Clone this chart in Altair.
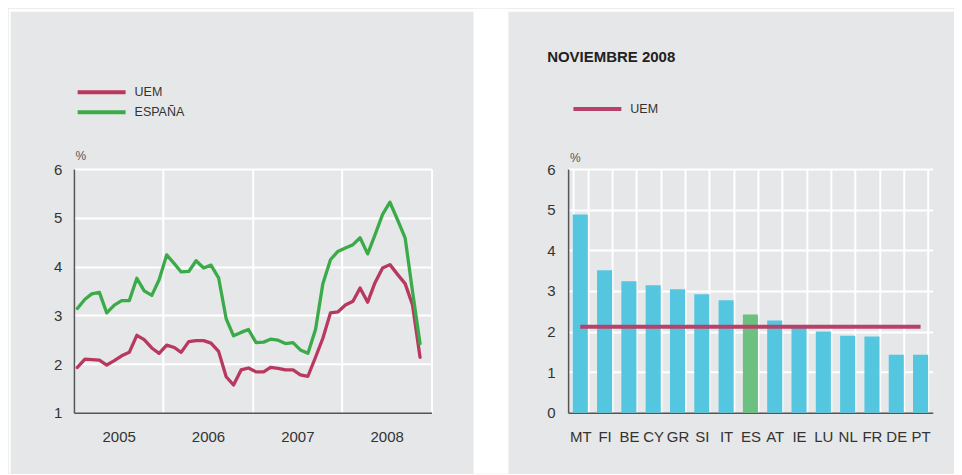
import altair as alt
import pandas as pd

# ---------------- data ----------------
meses = [f"{a}-{m:02d}-15" for a in range(2005, 2009) for m in range(1, 13)][:47]
uem = [1.93, 2.10, 2.09, 2.08, 1.98, 2.07, 2.17, 2.24, 2.59, 2.50, 2.33, 2.22,
       2.39, 2.34, 2.24, 2.46, 2.48, 2.48, 2.43, 2.26, 1.74, 1.57, 1.88, 1.92,
       1.84, 1.84, 1.93, 1.91, 1.88, 1.88, 1.78, 1.75, 2.14, 2.53, 3.05, 3.07,
       3.21, 3.29, 3.56, 3.27, 3.67, 3.97, 4.04, 3.84, 3.65, 3.22, 2.14]
espana = [3.14, 3.33, 3.44, 3.47, 3.05, 3.21, 3.30, 3.30, 3.76, 3.50, 3.41, 3.73,
          4.24, 4.06, 3.89, 3.90, 4.12, 3.97, 4.03, 3.77, 2.93, 2.58, 2.65, 2.71,
          2.44, 2.45, 2.51, 2.49, 2.42, 2.44, 2.29, 2.22, 2.71, 3.65, 4.14, 4.31,
          4.38, 4.45, 4.59, 4.26, 4.65, 5.07, 5.32, 4.96, 4.59, 3.50, 2.42]
series = ["UEM", "ESPAÑA"]
anios = [2005, 2006, 2007, 2008, 2009]
ticks_izq = [1, 2, 3, 4, 5, 6]

paises = ["MT", "FI", "BE", "CY", "GR", "SI", "IT", "ES", "AT", "IE", "LU", "NL", "FR", "DE", "PT"]
valores = [4.88, 3.51, 3.24, 3.14, 3.04, 2.92, 2.77, 2.42, 2.27, 2.16, 2.00, 1.90, 1.88, 1.43, 1.43]
uem_nov = 2.12
ticks_der = [0, 1, 2, 3, 4, 5, 6]
titulo_der = "NOVIEMBRE 2008"

# ---------------- style ----------------
FONT = "Liberation Sans"
GREY = "#e6e7e8"
RED = "#b8385f"
RED2 = "#b8416a"
GREEN = "#3bab4a"
CYAN = "#54c6df"
ES_GREEN = "#6dc180"
W1, W2, H = 358, 365, 244

df_l = pd.DataFrame({
    "fecha": meses * 2,
    "valor": uem + espana,
    "serie": [series[0]] * len(uem) + [series[1]] * len(espana),
})
df_b = pd.DataFrame({"pais": paises, "valor": valores})
df_u = pd.DataFrame({"pais": [paises[0], paises[-1]], "valor": [uem_nov, uem_nov], "serie": ["UEM", "UEM"]})
df_t = pd.DataFrame({"titulo": [titulo_der]})
one = pd.DataFrame({"k": [0]})

def dt(y):
    return alt.DateTime(year=y, month=1, date=1, utc=True)

def white_rect(x, x2, y, y2):
    return alt.Chart(one).mark_rect(color="white").encode(
        x=alt.value(x), x2=alt.value(x2), y=alt.value(y), y2=alt.value(y2))

TOP = -160.5
BOT = H + 61

# ---------------- left panel ----------------
lines = alt.Chart(df_l).mark_line(strokeWidth=3.3, strokeCap="round", strokeJoin="round").encode(
    x=alt.X("fecha:T",
            scale=alt.Scale(type="utc", domain=[dt(2005), dt(2009)]),
            axis=alt.Axis(values=[dt(a) for a in anios],
                          labelExpr="utcyear(datum.value) < 2009 ? utcFormat(datum.value, '%Y') : ''",
                          labelOffset=W1 / 8, labelFlush=False, labelPadding=17,
                          grid=True,
                          gridOpacity={"condition": {"test": "utcyear(datum.value) == 2005", "value": 0}, "value": 1},
                          title=None)),
    y=alt.Y("valor:Q",
            scale=alt.Scale(domain=[1, 6], nice=False, zero=False),
            axis=alt.Axis(values=ticks_izq, labelPadding=12, labelFlush=False,
                          grid=True,
                          gridOpacity={"condition": {"test": "datum.value == 1", "value": 0}, "value": 1},
                          title="%", titleAngle=0, titleAlign="left", titleBaseline="middle",
                          titleX=1, titleY=-13.5)),
    color=alt.Color("serie:N", sort=series,
                    scale=alt.Scale(domain=series, range=[RED, GREEN]),
                    legend=alt.Legend(orient="none", legendX=1.7, legendY=-84.8, title=None,
                                      symbolType="stroke", symbolSize=2304, symbolStrokeWidth=4,
                                      labelFont=FONT, labelFontSize=12.5, labelColor="#333",
                                      labelOffset=7, clipHeight=16, rowPadding=4, padding=0)),
)

left = alt.layer(
    white_rect(-65.3, -63.3, TOP, BOT),
    white_rect(-65.3, W1 + 77, TOP, TOP + 3),
    white_rect(W1 + 42, W1 + 77, TOP, BOT),
    lines,
).properties(width=W1, height=H)

# ---------------- right panel ----------------
xb = alt.X("pais:N", sort=paises,
           scale=alt.Scale(paddingInner=0.38, paddingOuter=0.19),
           axis=alt.Axis(tickBand="extent", grid=True, labelAngle=0, labelPadding=17, title=None))
yb = alt.Y("valor:Q",
           scale=alt.Scale(domain=[0, 6], nice=False),
           axis=alt.Axis(values=ticks_der, labelPadding=13, grid=True,
                         gridOpacity={"condition": {"test": "datum.value == 0", "value": 0}, "value": 1},
                         title="%", titleAngle=0, titleAlign="left", titleBaseline="middle",
                         titleX=1.3, titleY=-12))

bars = alt.Chart(df_b).mark_bar().encode(
    x=xb, y=yb,
    color=alt.condition("datum.pais == 'ES'", alt.value(ES_GREEN), alt.value(CYAN)),
)
uem_line = alt.Chart(df_u).mark_line(strokeWidth=4).encode(
    x=alt.X("pais:N", sort=paises),
    y=alt.Y("valor:Q"),
    color=alt.Color("serie:N",
                    scale=alt.Scale(domain=["UEM"], range=[RED2]),
                    legend=alt.Legend(orient="none", legendX=3.3, legendY=-68.2, title=None,
                                      symbolType="stroke", symbolSize=2304, symbolStrokeWidth=4,
                                      labelFont=FONT, labelFontSize=12.5, labelColor="#333",
                                      labelOffset=7, clipHeight=16, rowPadding=4, padding=0)),
)
title_txt = alt.Chart(df_t).mark_text(
    align="left", baseline="middle", font=FONT, fontSize=15, fontWeight="bold", color="#222"
).encode(text="titulo:N", x=alt.value(-21), y=alt.value(-111.8))

right = alt.layer(
    white_rect(-59.7, W2 + 21, TOP, TOP + 3),
    bars,
    uem_line,
    title_txt,
).properties(width=W2, height=H)

chart = alt.hconcat(left, right, spacing=136.7, bounds="flush").resolve_scale(
    color="independent"
).configure(
    background=GREY, padding=0, font=FONT
).configure_view(
    stroke=None
).configure_axis(
    labelFont=FONT, labelFontSize=15, labelColor="#333",
    domainColor="#555", domainWidth=1.5, ticks=False,
    gridColor="white", gridWidth=2,
    titleFont=FONT, titleFontSize=12, titleFontWeight="normal", titleColor="#555",
)

chart.save("out.html", embed_options={"renderer": "svg", "actions": False})
